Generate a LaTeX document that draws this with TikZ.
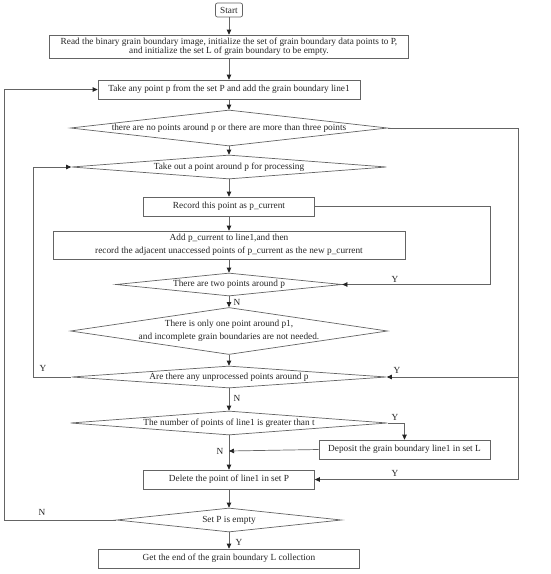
\documentclass[tikz,border=0pt]{standalone}
\usepackage{fontspec}
\setmainfont{Liberation Serif}
\usetikzlibrary{shapes.geometric,arrows.meta}
\definecolor{linecol}{RGB}{100,100,100}
\definecolor{tipcol}{RGB}{35,35,35}
\begin{document}
\begin{tikzpicture}[x=1pt,y=-1pt,
  every node/.style={font=\fontsize{9.3}{13}\selectfont, text=black!85},
  box/.style={draw=linecol, line width=0.7pt, rectangle, inner sep=1pt, align=center},
  dia/.style={draw=linecol, line width=0.7pt, diamond, inner sep=0pt},
  lbl/.style={align=center, inner sep=0pt},
  arr/.style={draw=linecol, line width=0.7pt, -{Triangle[width=4.5pt,length=5pt,color=tipcol]}},
  yn/.style={font=\fontsize{9.3}{10}\selectfont, inner sep=0pt}
]
\useasboundingbox (0,0) rectangle (550,574);
\fill[white] (0,0) rectangle (550,574);

\node[box, rounded corners=2pt, minimum width=27pt, minimum height=14pt] (start) at (229,10) {Start};
\node[box, minimum width=359pt, minimum height=23pt, font=\fontsize{9.3}{9.5}\selectfont] (read) at (229,46.5) {Read the binary grain boundary image, initialize the set of grain boundary data points to P,\\and initialize the set L of grain boundary to be empty.};
\node[box, minimum width=262pt, minimum height=19pt] (take) at (229,89.5) {Take any point p from the set P and add the grain boundary line1};
\node[dia, minimum width=317pt, minimum height=36pt, label={[lbl]center:there are no points around p or there are more than three points}] (d1) at (229,128) {};
\node[dia, minimum width=315pt, minimum height=24pt, label={[lbl]center:Take out a point around p for processing}] (d2) at (229,167) {};
\node[box, minimum width=171pt, minimum height=19pt] (rec) at (229,206.5) {Record this point as p\_current};
\node[box, minimum width=352pt, minimum height=28pt] (add) at (229,245) {Add p\_current to line1,and then\\record the adjacent unaccessed points of p\_current as the new p\_current};
\node[dia, minimum width=226pt, minimum height=23pt, label={[lbl]center:There are two points around p}] (d3) at (229,284.5) {};
\node[dia, minimum width=317pt, minimum height=47pt, label={[lbl]center:{There is only one point around p1,\\and incomplete grain boundaries are not needed.}}] (d4) at (229,331) {};
\node[dia, minimum width=315pt, minimum height=22pt, label={[lbl]center:Are there any unprocessed points around p}] (d5) at (229,377) {};
\node[dia, minimum width=317pt, minimum height=24pt, label={[lbl]center:The number of points of line1 is greater than t}] (d6) at (229,423) {};
\node[box, minimum width=171pt, minimum height=19pt] (dep) at (404.5,449.5) {Deposit the grain boundary line1 in set L};
\node[box, minimum width=171pt, minimum height=19pt] (del) at (229,479.5) {Delete the point of line1 in set P};
\node[dia, minimum width=225pt, minimum height=24pt, label={[lbl]center:Set P is empty}] (d7) at (229,520) {};
\node[box, minimum width=261pt, minimum height=19pt] (fin) at (229,558.5) {Get the end of the grain boundary L collection};

\coordinate (axis) at (229,451);
\coordinate (rtop) at (518,128);
\coordinate (rmid) at (518,377);
\coordinate (rbot) at (518,479.5);
\coordinate (l1) at (4,520);
\coordinate (l2) at (33,377);
\coordinate (r3) at (490,206.5);
\coordinate (r6) at (404.5,423);

% main axis
\draw[arr] (start) -- (read);
\draw[arr] (read) -- (take);
\draw[arr] (take) -- (d1.north);
\draw[arr] (d1.south) -- (d2.north);
\draw[arr] (d2.south) -- (rec);
\draw[arr] (rec) -- (add);
\draw[arr] (add) -- (d3.north);
\draw[arr] (d3.south) -- (d4.north);
\draw[arr] (d4.south) -- (d5.north);
\draw[arr] (d5.south) -- (d6.north);
\draw[arr] (d6.south) -- (del.north);
\draw[arr] (del) -- (d7.north);
\draw[arr] (d7.south) -- (fin);

% loops
\draw[arr] (d7.west) -- (l1) |- (take.west);
\draw[arr] (d5.west) -- (l2) |- (d2.west);
\draw[arr] (d1.east) -- (rtop) -- (rbot) -- (del.east);
\draw[arr] (rmid) -- (d5.east);
\draw[arr] (rec.east) -- (r3) |- (d3.east);
\draw[arr] (d6.east) -- (r6) -- (dep.north);
\draw[arr] (dep.west) -- (axis);

% labels
\node[yn] (y1) at (395,279) {Y};
\node[yn] (n1) at (237,302) {N};
\node[yn] (y2) at (43,368) {Y};
\node[yn] (y3) at (397,370) {Y};
\node[yn] (n2) at (237,398) {N};
\node[yn] (y4) at (395,417) {Y};
\node[yn] (n3) at (220,451) {N};
\node[yn] (y5) at (395,473) {Y};
\node[yn] (n4) at (42,512) {N};
\node[yn] (y6) at (239,542) {Y};
\end{tikzpicture}
\end{document}
